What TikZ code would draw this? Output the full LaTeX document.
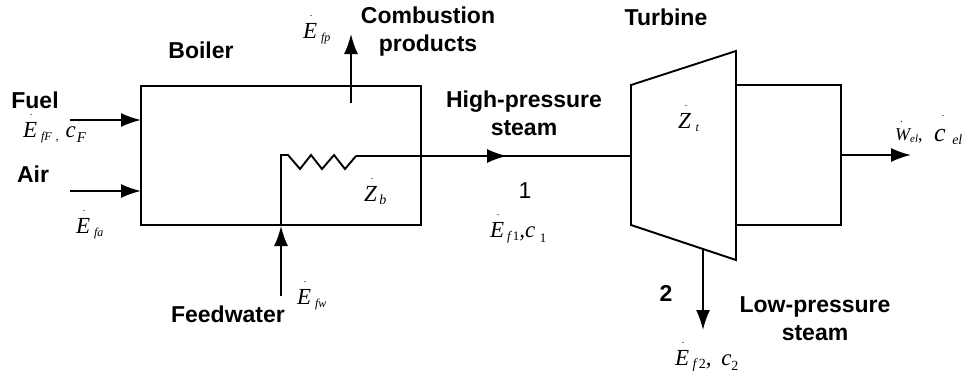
\documentclass[tikz,border=0pt]{standalone}
\usepackage{fontspec}
\setmainfont{Liberation Sans}
\newfontfamily\quantfont{Liberation Serif}
\usetikzlibrary{arrows.meta,calc,positioning}
\newcommand{\withdot}[1]{\leavevmode\rlap{\hspace{.3em}\raisebox{.95em}[0pt][0pt]{\fontsize{10}{10}\selectfont .}}#1}
\newcommand{\lowtext}[2]{\raisebox{-.14em}{\fontsize{#1}{#1}\selectfont #2}}
\newcommand{\lowertext}[2]{\raisebox{-.26em}{\fontsize{#1}{#1}\selectfont #2}}
\tikzset{tag/.style={
            font=\fontsize{23}{28}\selectfont\bfseries,
            align=center,
            inner sep=0pt
        },
        quant/.style={
            font=\fontsize{23}{23}\selectfont\quantfont\itshape,
            anchor=base west,
            inner sep=0pt
        },
        line/.style={
            line width=1.9pt,
            line join=miter
        },
        flow/.style={
            line,
            -{Latex[length=20pt,width=14pt]}
        }
    }
\begin{document}
\begin{tikzpicture}[x=1pt,y=-1pt]
        \useasboundingbox (0,0) rectangle (971,375);
        % boiler
        \node[line,draw,outer sep=0pt,minimum width=280pt,minimum height=139pt,anchor=north west] at (141,86) (boiler) {};
        \coordinate (fuelstart) at (70,120);
        \coordinate (fuelend) at (141,120);
        \coordinate (airstart) at (70,191);
        \coordinate (airend) at (141,191);
        \coordinate (gasstart) at (351,103);
        \coordinate (gasend) at (351,34);
        \coordinate (waterstart) at (281,296);
        \coordinate (waterend) at (281,226);
        \coordinate (coilend) at (356,156);
        \coordinate (steamtip) at (507,156);
        \coordinate (steamrest) at (495,156);
        \draw[flow] (fuelstart) -- (fuelend);
        \draw[flow] (airstart) -- (airend);
        \draw[flow] (gasstart) -- (gasend);
        \draw[flow] (waterstart) -- (waterend);
        \draw[line] (waterend) -- (281,155) -- (288,155) -- (300,169) -- (311,155) -- (322,169) -- (334,155) -- (345,169) -- (coilend);
        % turbine
        \coordinate (turbineA) at (631,85);
        \coordinate (turbineB) at (736,51);
        \coordinate (turbineC) at (736,260);
        \coordinate (turbineD) at (631,225);
        \coordinate (turbinein) at (631,156);
        \coordinate (turbineout) at (703,249);
        \coordinate (extract) at (703,330);
        \coordinate (shaftA) at (736,85);
        \coordinate (shaftB) at (841,85);
        \coordinate (shaftC) at (841,225);
        \coordinate (shaftD) at (736,225);
        \coordinate (shaftout) at (841,155);
        \coordinate (power) at (911,155);
        \draw[line] (turbineA) -- (turbineB) -- (turbineC) -- (turbineD) -- cycle;
        \draw[line] (shaftA) -- (shaftB) -- (shaftC) -- (shaftD);
        \draw[flow] (coilend) -- (steamtip);
        \draw[line] (steamrest) -- (turbinein);
        \draw[flow] (turbineout) -- (extract);
        \draw[flow] (shaftout) -- (power);
        % names
        \node[tag] at (201,50) (boilername) {Boiler};
        \node[tag] at (35,100) (fuelname) {Fuel};
        \node[tag] at (33,174) (airname) {Air};
        \node[tag] at (228,314) (watername) {Feedwater};
        \node[tag] at (428,32) (gasname) {Combustion\\products};
        \node[tag] at (524,113) (highname) {High-pressure\\steam};
        \node[tag] at (666,17) (turbinename) {Turbine};
        \node[tag] at (815,319) (lowname) {Low-pressure\\steam};
        \node[tag] at (666,293) (pointtwo) {2};
        \node[tag,font=\fontsize{23}{28}\selectfont] at (525,191) (pointone) {1};
        % quantities
        \node[quant] at (303,38) (Efp) {\withdot{E}\hspace{.17em}\lowtext{12}{fp}};
        \node[quant] at (23,137) (EfF) {\withdot{E}\hspace{.17em}\lowtext{12}{fF}\,\lowtext{12}{,}\hspace{.3em}c\hspace{.05em}\lowertext{15}{F}};
        \node[quant] at (76,233) (Efa) {\withdot{E}\hspace{.17em}\lowtext{12}{fa}};
        \node[quant] at (297,304) (Efw) {\withdot{E}\hspace{.17em}\lowtext{12}{fw}};
        \node[quant] at (364,201) (Zb) {\withdot{Z}\hspace{.1em}\lowtext{14}{b}};
        \node[quant] at (678,128) (Zt) {\withdot{Z}\hspace{.2em}\lowtext{12}{t}};
        \node[quant] at (490,237) (Ef1) {\withdot{E}\hspace{.12em}\lowtext{13}{f\,{\upshape 1}},c\hspace{.2em}\lowertext{13}{\upshape 1}};
        \node[quant] at (675,365) (Ef2) {\withdot{E}\hspace{.15em}\lowtext{14}{f\,{\upshape 2}}, \,c\lowertext{14}{\upshape 2}};
        \node[quant,font=\fontsize{18}{18}\selectfont\quantfont\itshape] at (895,140) (Wel) {\withdot{W}\lowtext{11}{el}{\upshape ,}};
        \node[quant,font=\fontsize{26}{26}\selectfont\quantfont\itshape] at (934,141) (cel) {\withdot{c}\hspace{.25em}\lowtext{14}{el}};
    \end{tikzpicture}
\end{document}
